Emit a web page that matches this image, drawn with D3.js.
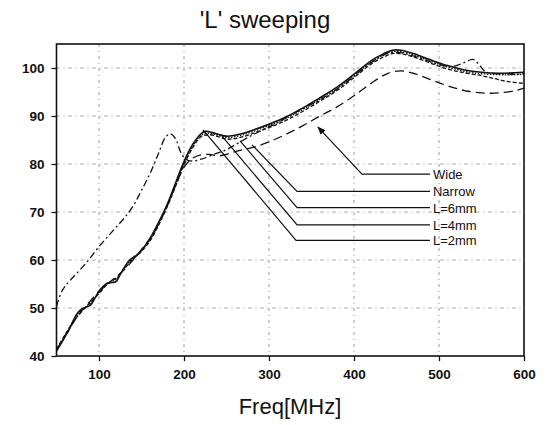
<!DOCTYPE html>
<html>
<head>
<meta charset="utf-8">
<script src="https://cdn.jsdelivr.net/npm/d3@7"></script>
<style>
  body { margin: 0; background: #fff; }
  svg { display: block; font-family: "Liberation Sans", Arial, sans-serif; }
</style>
</head>
<body>
<div id="chart"></div>
<script>
// 'L' sweeping - frequency response of five variants

const xTicks = [100, 200, 300, 400, 500, 600];
const yTicks = [40, 50, 60, 70, 80, 90, 100];

// L=2mm (solid)
const l2mm = [
  [50, 41], [55, 42.5], [60, 44], [65, 45.5], [70, 47.5], [75, 49], [80, 49.8], [85, 50.2],
  [90, 50.6], [95, 52], [100, 53.5], [105, 54.5], [110, 55.2], [115, 55.3], [120, 55.5],
  [125, 57], [130, 58.5], [135, 59.8], [140, 60.5], [145, 61], [150, 62], [160, 64.5],
  [170, 67.8], [180, 71.5], [190, 76], [200, 80.5], [210, 84], [220, 86.3], [225, 86.8],
  [230, 86.7], [240, 86.2], [250, 85.8], [260, 86], [270, 86.4], [280, 87], [300, 88.3],
  [320, 89.8], [340, 91.7], [360, 93.8], [380, 96], [400, 98.7], [420, 101.5], [435, 103],
  [445, 103.7], [455, 103.7], [470, 103], [490, 101.7], [510, 100.5], [530, 99.6],
  [550, 99.1], [570, 98.9], [590, 99], [600, 99.1]
];

// L=4mm (dotted)
const l4mm = [
  [50, 41.2], [60, 44.2], [70, 47.3], [80, 49.5], [90, 51], [100, 53.2], [110, 55],
  [120, 56], [130, 58.3], [140, 60.4], [150, 62], [160, 64.2], [170, 67.4], [180, 71.2],
  [190, 75.6], [200, 80], [210, 83.6], [220, 86], [230, 86.4], [240, 86], [250, 85.5],
  [260, 85.7], [270, 86.1], [280, 86.7], [300, 88], [320, 89.5], [340, 91.4], [360, 93.5],
  [380, 95.7], [400, 98.4], [420, 101.2], [435, 102.7], [445, 103.4], [455, 103.4],
  [470, 102.7], [490, 101.4], [510, 100.2], [530, 99.3], [550, 98.8], [570, 98.6],
  [590, 98.6], [600, 98.7]
];

// L=6mm (short dash)
const l6mm = [
  [50, 41.4], [60, 44.4], [70, 47.2], [80, 49.3], [90, 51.2], [100, 53], [110, 55],
  [120, 56.2], [130, 58.2], [140, 60.2], [150, 61.8], [160, 64], [170, 67.2], [180, 71],
  [190, 75.3], [200, 79.8], [210, 83.3], [220, 85.7], [230, 86.1], [240, 85.7], [250, 85.2],
  [260, 85.3], [270, 85.7], [280, 86.3], [300, 87.6], [320, 89.1], [340, 91], [360, 93.1],
  [380, 95.3], [400, 98], [420, 100.8], [435, 102.3], [445, 103], [455, 103], [470, 102.3],
  [490, 101], [510, 99.8], [530, 99], [550, 98.4], [565, 97.8], [580, 97.2], [600, 96.8]
];

// Narrow (dash-dot)
const narrow = [
  [50, 50.3], [55, 53], [60, 54.5], [70, 56.5], [80, 58.4], [90, 60.5], [100, 62.8],
  [110, 64.8], [120, 66.8], [130, 68.8], [140, 71.2], [150, 74.5], [160, 78], [170, 82.2],
  [178, 85.5], [184, 86.3], [190, 85.3], [196, 82.5], [202, 81], [210, 80.6], [220, 81],
  [235, 82], [250, 83], [265, 84.5], [280, 86], [295, 87.3], [310, 88.6], [330, 90.6],
  [360, 93.4], [380, 95.6], [400, 98.3], [420, 101.1], [440, 103.1], [455, 103.2],
  [470, 102.5], [485, 101.6], [500, 100.7], [515, 100.3], [528, 101], [540, 101.8],
  [548, 100.5], [555, 99.2], [570, 98.8], [590, 98.7], [600, 98.8]
];

// Wide (long dash)
const wide = [
  [50, 41.3], [60, 44.3], [70, 47], [80, 49.5], [90, 51.5], [100, 53.5], [110, 55],
  [120, 56.5], [130, 58], [140, 60], [150, 62.2], [160, 64.5], [170, 67.5], [180, 71.2],
  [190, 75.5], [200, 79.3], [210, 81.2], [220, 81.9], [230, 82], [240, 81.7], [250, 82],
  [260, 82.6], [280, 83.4], [300, 84.6], [320, 86.2], [340, 88], [360, 90], [380, 91.9],
  [400, 94.2], [420, 96.8], [440, 98.9], [455, 99.4], [470, 98.9], [490, 97.6],
  [510, 96.3], [530, 95.3], [550, 94.8], [570, 94.8], [590, 95.3], [600, 95.8]
];

const seriesNames = ["Wide", "Narrow", "L=6mm", "L=4mm", "L=2mm"];
const seriesData = [wide, narrow, l6mm, l4mm, l2mm];
const seriesDash = ["9,5", "7,3,2,3", "4,2", "1.5,1.5", null];

// leader lines: [tip, elbow] in data units, all ending at x=489
const leaderTips = [[357.6, 87.7], [280, 84], [265.9, 84.8], [244.7, 85.8], [222.4, 87.1]];
const leaderElbows = [[409.4, 77.9], [333, 74.3], [333, 70.9], [333, 67.3], [331.8, 64.1]];
const leaderEndX = 489.4;

const width = 552, height = 425;
const margin = { top: 44, right: 28, bottom: 69, left: 56.5 };

const svg = d3.select("#chart").append("svg")
  .attr("width", width)
  .attr("height", height);

const x = d3.scaleLinear().domain([50, 600]).range([margin.left, width - margin.right]);
const y = d3.scaleLinear().domain([40, 105]).range([height - margin.bottom, margin.top]);

// title
svg.append("text")
  .attr("x", 265)
  .attr("y", 28)
  .attr("text-anchor", "middle")
  .style("font-size", "24px")
  .style("fill", "#111")
  .text("'L' sweeping");

// grid
svg.append("g")
  .selectAll("line")
  .data(xTicks.filter(d => d < 600))
  .join("line")
  .attr("x1", d => x(d)).attr("x2", d => x(d))
  .attr("y1", margin.top).attr("y2", height - margin.bottom)
  .attr("stroke", "#999")
  .attr("stroke-width", 1)
  .attr("stroke-dasharray", "3,4,1,4");

svg.append("g")
  .selectAll("line")
  .data(yTicks.filter(d => d > 40))
  .join("line")
  .attr("x1", margin.left).attr("x2", width - margin.right)
  .attr("y1", d => y(d)).attr("y2", d => y(d))
  .attr("stroke", "#999")
  .attr("stroke-width", 1)
  .attr("stroke-dasharray", "3,4,1,4");

// axes
const xAxis = svg.append("g")
  .attr("transform", `translate(0,${height - margin.bottom})`)
  .call(d3.axisBottom(x).tickValues(xTicks).tickSize(5).tickPadding(8));

const yAxis = svg.append("g")
  .attr("transform", `translate(${margin.left},0)`)
  .call(d3.axisLeft(y).tickValues(yTicks).tickSize(5).tickPadding(7));

[xAxis, yAxis].forEach(g => {
  g.select(".domain").remove();
  g.selectAll("line").attr("stroke", "#111").attr("stroke-width", 1.3);
  g.selectAll("text")
    .style("font-size", "13.5px")
    .style("font-weight", "bold")
    .style("font-family", "'Liberation Sans', Arial, sans-serif")
    .attr("fill", "#111");
});

// frame
svg.append("rect")
  .attr("x", margin.left)
  .attr("y", margin.top)
  .attr("width", width - margin.left - margin.right)
  .attr("height", height - margin.top - margin.bottom)
  .attr("fill", "none")
  .attr("stroke", "#111")
  .attr("stroke-width", 1.6);

// x axis title
svg.append("text")
  .attr("x", 290)
  .attr("y", 414)
  .attr("text-anchor", "middle")
  .style("font-size", "22px")
  .style("fill", "#111")
  .text("Freq[MHz]");

// curves
const line = d3.line()
  .x(d => x(d[0]))
  .y(d => y(d[1]))
  .curve(d3.curveCatmullRom);

seriesData.forEach((data, i) => {
  svg.append("path")
    .datum(data)
    .attr("d", line)
    .attr("fill", "none")
    .attr("stroke", "#111")
    .attr("stroke-width", i === 4 ? 1.6 : 1.3)
    .attr("stroke-dasharray", seriesDash[i]);
});

// arrow marker for "Wide"
svg.append("defs").append("marker")
  .attr("id", "arrow")
  .attr("viewBox", "0 0 10 10")
  .attr("refX", 9).attr("refY", 5)
  .attr("markerWidth", 7).attr("markerHeight", 7)
  .attr("orient", "auto-start-reverse")
  .append("path")
  .attr("d", "M0,1 L10,5 L0,9 z")
  .attr("fill", "#111");

// leader lines + labels
seriesNames.forEach((name, i) => {
  const tip = leaderTips[i], elbow = leaderElbows[i];
  const pts = [[x(tip[0]), y(tip[1])], [x(elbow[0]), y(elbow[1])], [x(leaderEndX), y(elbow[1])]];
  svg.append("path")
    .attr("d", d3.line()(pts))
    .attr("fill", "none")
    .attr("stroke", "#111")
    .attr("stroke-width", 1.2)
    .attr("marker-start", i === 0 ? "url(#arrow)" : null);

  svg.append("text")
    .attr("x", x(leaderEndX) + 3)
    .attr("y", y(elbow[1]) + 5)
    .style("font-size", "13px")
    .style("fill", "#111")
    .text(name);
});
</script>
</body>
</html>
